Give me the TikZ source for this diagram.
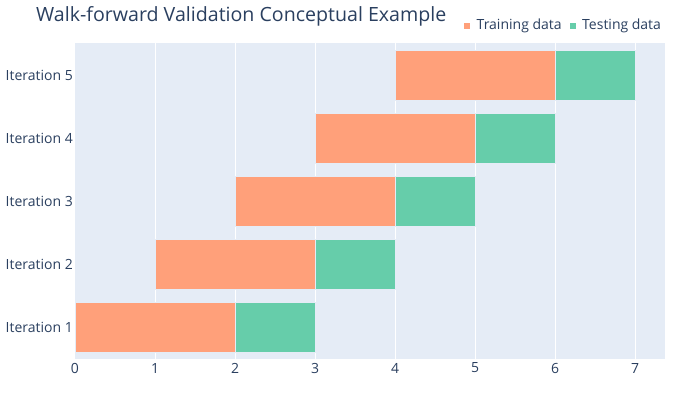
\documentclass[tikz,border=0pt]{standalone}
\usepackage{fontspec}
\setmainfont{Open Sans}
\definecolor{plotbg}{HTML}{E5ECF6}
\definecolor{txt}{HTML}{2A3F5F}
\definecolor{train}{HTML}{FFA07A}
\definecolor{test}{HTML}{66CDAA}
\tikzset{
  barbox/.style={draw=plotbg, line width=0.5pt, inner sep=0pt, minimum height=50pt, anchor=west},
  trainbar/.style={barbox, fill=train, minimum width=160pt},
  testbar/.style={barbox, fill=test, minimum width=80pt},
  lbl/.style={text=txt, font=\fontsize{14}{16}\selectfont, inner sep=0pt},
  gridline/.style={white, line width=1pt},
  legmark/.style={inner sep=0pt, minimum size=6pt},
}
\begin{document}
\begin{tikzpicture}[x=1pt,y=-1pt]
\useasboundingbox (0,0) rectangle (700,394);
% plot background
\fill[plotbg] (75,43) rectangle (665,359);
\foreach \v in {1,...,7}{
  \coordinate (gt\v) at (75+80*\v,43);
  \coordinate (gb\v) at (75+80*\v,359);
  \draw[gridline] (gt\v) -- (gb\v);
}
% bars
\foreach \k in {1,...,5}{
  \pgfmathsetmacro{\yy}{327-63*(\k-1)}
  \node[trainbar] (tr\k) at ({75+80*(\k-1)},\yy) {};
  \node[testbar] (te\k) at ({75+80*(\k+1)},\yy) {};
  \node[lbl, anchor=east] (it\k) at (73,\yy) {Iteration \k};
}
% tick labels
\foreach \v in {0,...,7}{
  \node[lbl] (tk\v) at (75+80*\v,368) {\v};
}
% title
\node[text=txt, font=\fontsize{19.6}{23}\selectfont, inner sep=0pt, anchor=west] (title) at (36,16) {Walk-forward Validation Conceptual Example};
% legend
\node[legmark, fill=train] (lm1) at (467,26) {};
\node[lbl, anchor=west] (lt1) at (476.5,26) {Training data};
\node[legmark, fill=test] (lm2) at (573,26) {};
\node[lbl, anchor=west] (lt2) at (582,26) {Testing data};
\end{tikzpicture}
\end{document}
